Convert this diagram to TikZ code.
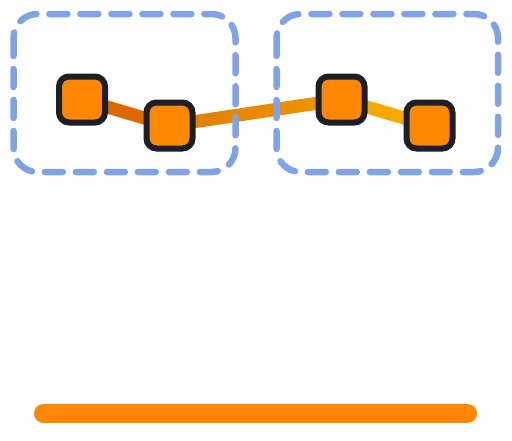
\documentclass[tikz,border=0pt]{standalone}
\usetikzlibrary{backgrounds,calc}
\definecolor{groupblue}{HTML}{7FA3E6}
\definecolor{boxorange}{HTML}{FF8800}
\definecolor{boxborder}{HTML}{1B1F26}
\definecolor{edgedark}{HTML}{DC6A00}
\definecolor{edgemidl}{HTML}{E07C00}
\definecolor{edgemidr}{HTML}{F09800}
\definecolor{edgelight}{HTML}{F9A800}
\tikzset{
    block/.style={rectangle, rounded corners=10pt, minimum size=46pt, inner sep=0pt,
        line width=6pt, draw=boxborder, fill=boxorange},
    edge/.style={line width=13pt},
    groupbox/.style={draw=groupblue, line width=6.5pt, rounded corners=24pt,
        dash pattern=on 18pt off 13pt, line cap=round},
    bar/.style={draw=boxorange, line width=19pt, line cap=round}
}
\begin{document}
\begin{tikzpicture}[x=1pt, y=-1pt]
    \useasboundingbox (0,0) rectangle (512,440);
    % Blocks
    \node [block] (a) at (82, 99.5) {};
    \node [block] (b) at (169.5, 125.5) {};
    \node [block] (c) at (341.5, 99.5) {};
    \node [block] (d) at (429.5, 125.5) {};
    % Links behind the blocks
    \begin{pgfonlayer}{background}
        \draw [edge, edgedark] (a.center) -- (b.center);
        \shade [left color=edgemidl, right color=edgemidr]
            ($(b.center)!6.5pt!90:(c.center)$) -- ($(c.center)!6.5pt!-90:(b.center)$)
            -- ($(c.center)!6.5pt!90:(b.center)$) -- ($(b.center)!6.5pt!-90:(c.center)$) -- cycle;
        \draw [edge, edgelight] (c.center) -- (d.center);
    \end{pgfonlayer}
    % Groups
    \draw [groupbox] (13.5, 14) rectangle (235.5, 172);
    \draw [groupbox] (276.5, 14) rectangle (498, 172);
    % Bottom bar
    \coordinate (barl) at (43.5, 413.5);
    \coordinate (barr) at (467.5, 413.5);
    \draw [bar] (barl) -- (barr);
\end{tikzpicture}
\end{document}
